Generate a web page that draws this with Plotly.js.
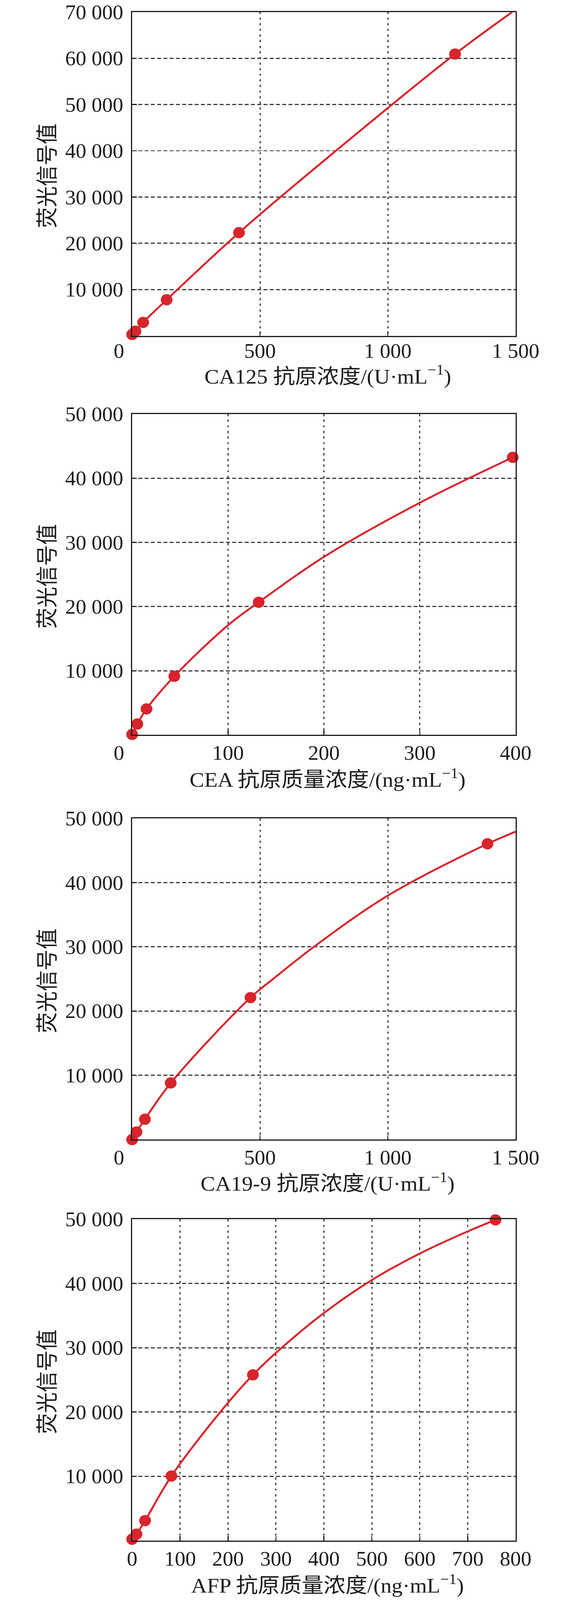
<!DOCTYPE html>
<html>
<head>
<meta charset="utf-8">
<script src="https://cdn.plot.ly/plotly-3.0.1.min.js"></script>
<style>body{margin:0;background:#fff;overflow:hidden}</style>
</head>
<body>
<div id="chart" style="width:1476px;height:4278px;transform-origin:0 0"></div>
<script>
//----------------------------- data -----------------------------//
// CA125
var ca125_x = [0, 13, 43, 135, 418, 1263];
var ca125_y = [300, 1000, 2900, 7800, 22300, 60900];
var ca125_fit_x = [0, 13, 43, 135, 418, 797, 1263, 1487];
var ca125_fit_y = [300, 1000, 2900, 7800, 22300, 40000, 60900, 70000];
// CEA
var cea_x = [0, 5.4, 15, 44, 132, 397];
var cea_y = [80, 1700, 4050, 9140, 20670, 43240];
var cea_fit_x = [0, 5.4, 15, 44, 100, 132, 200, 300, 397];
var cea_fit_y = [80, 1700, 4050, 9140, 17090, 20670, 27740, 36170, 43240];
// CA19-9
var ca199_x = [0, 17, 50, 151, 463, 1390];
var ca199_y = [0, 1190, 3170, 8810, 22100, 46040];
var ca199_fit_x = [0, 17, 50, 151, 463, 553, 711, 1000, 1390, 1471, 1500];
var ca199_fit_y = [0, 1190, 3170, 8810, 22100, 25050, 30000, 37970, 46040, 47440, 47940];
// AFP
var afp_x = [0, 9, 27, 82, 252, 758];
var afp_y = [200, 1000, 3100, 10040, 25790, 49900];
var afp_fit_x = [0, 9, 27, 82, 184, 252, 312, 400, 500, 600, 700, 758];
var afp_fit_y = [200, 1000, 3100, 10040, 20000, 25790, 30000, 35400, 40540, 44660, 48110, 49900];

// tick labels
var zeroLbl = '0\u00a0\u00a0\u00a0\u00a0\u00a0';   // the "0" sits left of the axis start in the original
var y70_vals = [10000, 20000, 30000, 40000, 50000, 60000, 70000];
var y70_text = ['10 000', '20 000', '30 000', '40 000', '50 000', '60 000', '70 000'];
var y50_vals = [10000, 20000, 30000, 40000, 50000];
var y50_text = ['10 000', '20 000', '30 000', '40 000', '50 000'];
var x1500_vals = [0, 500, 1000, 1500];
var x1500_text = [zeroLbl, '500', '1 000', '1 500'];
var x400_vals = [0, 100, 200, 300, 400];
var x400_text = [zeroLbl, '100', '200', '300', '400'];
var x800_vals = [0, 100, 200, 300, 400, 500, 600, 700, 800];
var x800_text = ['0', '100', '200', '300', '400', '500', '600', '700', '800'];

var xTitles = ['CA125 抗原浓度/(U·mL<sup>−1</sup>)',
               'CEA 抗原质量浓度/(ng·mL<sup>−1</sup>)',
               'CA19-9 抗原浓度/(U·mL<sup>−1</sup>)',
               'AFP 抗原质量浓度/(ng·mL<sup>−1</sup>)'];
var yTitle = '荧光信号值';

//----------------------------- layout -----------------------------//
var W = 1476, H = 4278;
var RED = '#d8242b', INK = '#1e1b1c', GRID = '#3a3a3a';
var FONT = 'Liberation Serif, Times New Roman, Noto Sans CJK SC, serif';
var plotL = 338, plotR = 1319;
var panels = [
  {top: 32,   bottom: 898,  xr: [0, 1500], yr: [0, 70000], xv: x1500_vals, xt: x1500_text, yv: y70_vals, yt: y70_text, xso: -9, titleY: 1003},
  {top: 1107, bottom: 1965, xr: [0, 400],  yr: [0, 50000], xv: x400_vals,  xt: x400_text,  yv: y50_vals, yt: y50_text, xso: -1, titleY: 2081},
  {top: 2188, bottom: 3047, xr: [0, 1500], yr: [0, 50000], xv: x1500_vals, xt: x1500_text, yv: y50_vals, yt: y50_text, xso: -1, titleY: 3161},
  {top: 3260, bottom: 4119, xr: [0, 800],  yr: [0, 50000], xv: x800_vals,  xt: x800_text,  yv: y50_vals, yt: y50_text, xso: -1, titleY: 4236}
];
var series = [
  [ca125_x, ca125_y, ca125_fit_x, ca125_fit_y],
  [cea_x, cea_y, cea_fit_x, cea_fit_y],
  [ca199_x, ca199_y, ca199_fit_x, ca199_fit_y],
  [afp_x, afp_y, afp_fit_x, afp_fit_y]
];

function py(p) { return (H - p) / H; }

var data = [];
var layout = {
  width: W, height: H,
  margin: {l: 0, r: 0, t: 0, b: 0},
  paper_bgcolor: '#fff', plot_bgcolor: '#fff',
  showlegend: false,
  font: {family: FONT, color: INK},
  annotations: []
};

panels.forEach(function (p, i) {
  var n = i === 0 ? '' : String(i + 1);
  var s = series[i];
  // fitted curve
  data.push({
    x: s[2], y: s[3], xaxis: 'x' + n, yaxis: 'y' + n,
    type: 'scatter', mode: 'lines',
    line: {color: RED, width: 5, shape: 'spline', smoothing: 1},
    hoverinfo: 'skip'
  });
  // measured points
  data.push({
    x: s[0], y: s[1], xaxis: 'x' + n, yaxis: 'y' + n,
    type: 'scatter', mode: 'markers', cliponaxis: false,
    marker: {color: RED, size: 30}
  });

  layout['xaxis' + n] = {
    domain: [plotL / W, plotR / W], anchor: 'y' + n,
    range: p.xr, tickvals: p.xv, ticktext: p.xt,
    ticks: 'inside', ticklen: 12, tickwidth: 2.5, tickcolor: INK,
    tickfont: {family: FONT, size: 54, color: INK},
    ticklabelstandoff: p.xso,
    showline: true, mirror: true, linecolor: INK, linewidth: 3,
    showgrid: true, gridcolor: GRID, gridwidth: 3, griddash: '6px,9px',
    zeroline: false, fixedrange: true
  };
  layout['yaxis' + n] = {
    domain: [py(p.bottom), py(p.top)], anchor: 'x' + n,
    range: p.yr, tickvals: p.yv, ticktext: p.yt,
    ticks: 'inside', ticklen: 12, tickwidth: 2.5, tickcolor: INK,
    tickfont: {family: FONT, size: 54, color: INK},
    ticklabelstandoff: 9,
    showline: true, mirror: true, linecolor: INK, linewidth: 3,
    showgrid: true, gridcolor: GRID, gridwidth: 3, griddash: '10px,6px',
    zeroline: false, fixedrange: true
  };

  layout.annotations.push({
    text: xTitles[i], xref: 'paper', yref: 'paper',
    x: 838 / W, y: py(p.titleY), xanchor: 'center', yanchor: 'middle',
    showarrow: false, font: {family: FONT, size: 56, color: INK}
  });
  layout.annotations.push({
    text: yTitle, xref: 'paper', yref: 'paper', textangle: -90,
    x: 121 / W, y: py((p.top + p.bottom) / 2 + 5), xanchor: 'center', yanchor: 'middle',
    showarrow: false, font: {family: FONT, size: 56, color: INK}
  });
});

Plotly.newPlot('chart', data, layout, {staticPlot: true, displayModeBar: false}).then(function () {
  // the window is shorter than the figure: squeeze it to fit the visible area
  var sy = window.innerHeight / H;
  if (sy < 1) document.getElementById('chart').style.transform = 'scale(1,' + sy + ')';
});
</script>
</body>
</html>
